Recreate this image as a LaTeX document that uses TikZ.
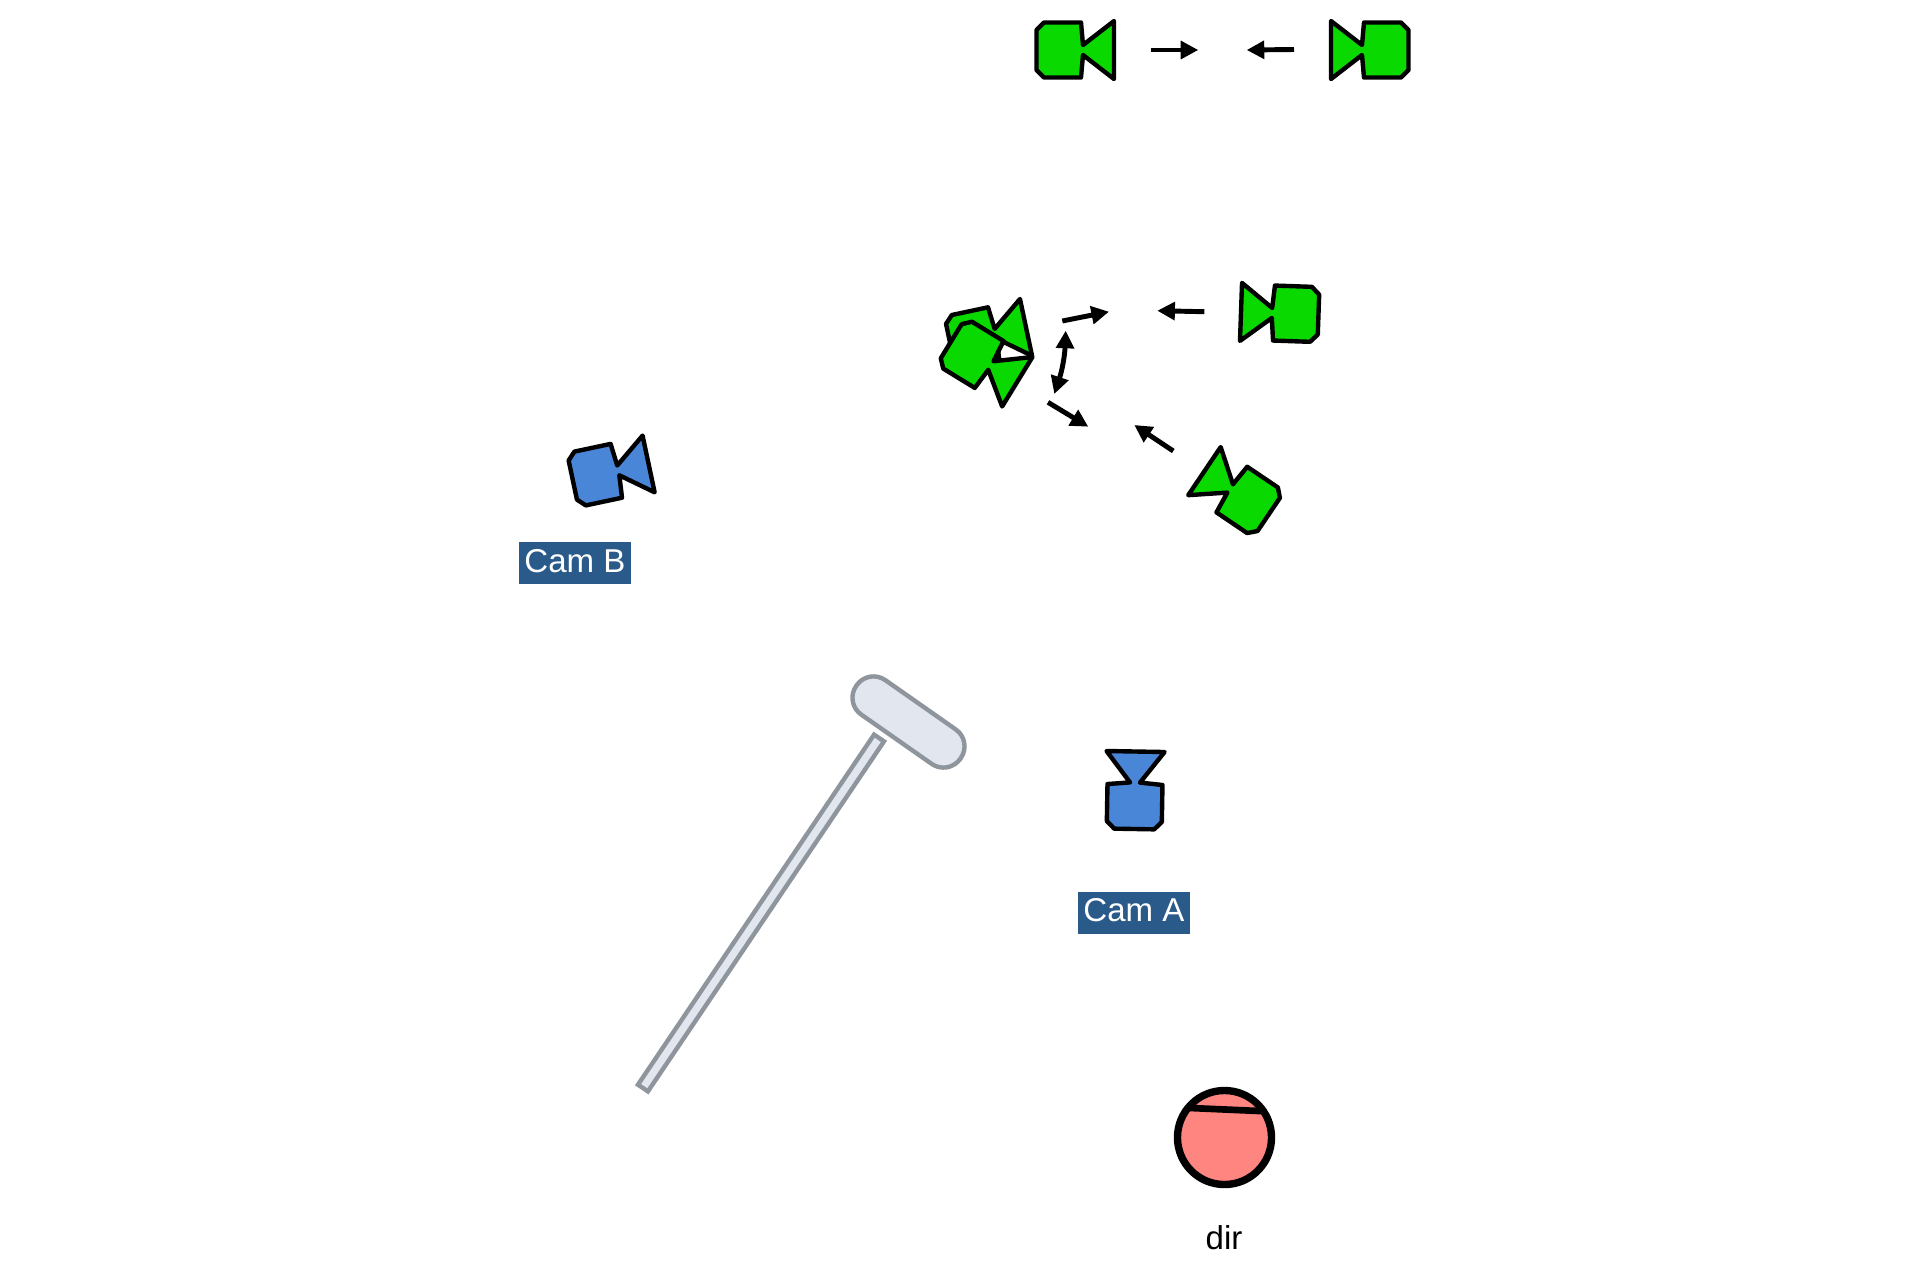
\documentclass[tikz,border=0pt]{standalone}
\usepackage{fontspec}
\setmainfont{Liberation Sans}
\usetikzlibrary{arrows.meta}

\definecolor{camgreen}{RGB}{10,217,0}
\definecolor{camblue}{RGB}{74,134,216}
\definecolor{tagblue}{RGB}{42,90,138}
\definecolor{micfill}{RGB}{226,230,238}
\definecolor{micline}{RGB}{143,149,156}
\definecolor{headred}{RGB}{255,134,128}

\tikzset{
  camera/.pic={
    \draw[black, line width=1.25pt, line join=round, fill=#1]
      (-1,-27.5) -- (1,-5) -- (32,-29) -- (32,29) -- (1,5) -- (-1,27.5)
      -- (-38,27.5) -- (-45.5,20) -- (-45.5,-20) -- (-38,-27.5) -- cycle;
  },
  move/.style={-{Triangle[length=5pt,width=5pt]}, black, line width=1.4pt},
  tag/.style={fill=tagblue, text=white, minimum width=1.12cm, minimum height=0.42cm, inner sep=0pt, text depth=1.4pt, font=\fontsize{9.4}{11}\selectfont},
  micpart/.style={draw=micline, fill=micfill, line width=1.25pt, inner sep=0pt},
}

\begin{document}
\begin{tikzpicture}[x=0.01cm, y=-0.01cm]
\useasboundingbox (0, 0) rectangle (1920, 1287);

% microphone
\node[micpart, minimum width=4.22cm, minimum height=0.12cm, rotate=56] (stick) at (761, 913) {};
\node[micpart, minimum width=1.27cm, minimum height=0.42cm, rounded corners=0.205cm, rotate=-35] (mic) at (908.5, 722) {};

% cameras
\pic (start) at (1082, 50) {camera=camgreen};
\pic[rotate=180] (end) at (1363, 50) {camera=camgreen};
\pic[rotate=178] (right) at (1273, 313) {camera=camgreen};
\pic[rotate=146] (lower) at (1231, 489) {camera=camgreen};
\pic[rotate=12] (back) at (994.7, 334) {camera=camgreen};
\pic[rotate=-31.5] (front) at (990, 365) {camera=camgreen};
\pic[rotate=12] (camb) at (617.3, 470.6) {camera=camblue};
\pic[rotate=89] (cama) at (1135, 783.5) {camera=camblue};

% moves
\coordinate (a1) at (1150.7, 50);
\coordinate (a2) at (1198.3, 50);
\coordinate (b1) at (1294, 49.5);
\coordinate (b2) at (1246.7, 50);
\coordinate (c1) at (1062.3, 321);
\coordinate (c2) at (1109, 311.7);
\coordinate (d1) at (1204.3, 311.7);
\coordinate (d2) at (1157.3, 310.7);
\coordinate (e1) at (1065.7, 330.7);
\coordinate (e2) at (1054.3, 394);
\coordinate (f1) at (1048, 402.3);
\coordinate (f2) at (1088.3, 426.7);
\coordinate (g1) at (1173.3, 451);
\coordinate (g2) at (1134.3, 425);

\draw[move] (a1) -- (a2);
\draw[move] (b1) -- (b2);
\draw[move] (c1) -- (c2);
\draw[move] (d1) -- (d2);
\draw[move, {Triangle[length=5pt,width=5pt]}-{Triangle[length=5pt,width=5pt]}] (e1) to[bend left=8] (e2);
\draw[move] (f1) -- (f2);
\draw[move] (g1) -- (g2);

% labels
\node[tag] (tagb) at (575, 563) {Cam B};
\node[tag] (taga) at (1134, 912.5) {Cam A};

% director
\node[circle, draw=black, fill=headred, line width=2.1pt, minimum size=0.94cm, inner sep=0pt] (head) at (1224.5, 1137.5) {};
\draw[black, line width=1.9pt, shorten <=1.2pt, shorten >=1.2pt] (head.144) -- (head.31);
\node[font=\fontsize{9.4}{11}\selectfont] (dirlabel) at (1224, 1238) {dir};
\end{tikzpicture}
\end{document}
